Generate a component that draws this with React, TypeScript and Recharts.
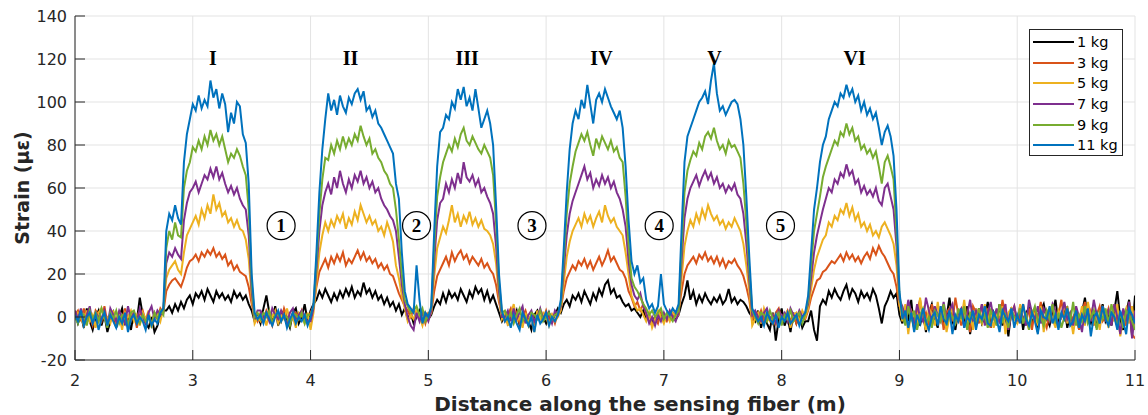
import React from 'react';
import {
  LineChart,
  Line,
  XAxis,
  YAxis,
  CartesianGrid,
  ReferenceDot,
} from 'recharts';

// sampling grid of the fibre readout (m)
const START_M = 2;
const STEP_M = 0.025;

// strain (µε), one value per 0.025 m from 2 m to 11 m
const strain1kg = [
  2, -3, 1, -5, 4, -2, -6, 0, 3, -4, 1, -7, -2, 2, -5, 0, 4, -3, -1, -6, 2, -2, 9, 1, -3, -5, 0, -7, -4, 1, 3,
  3, 5, 2, 6, 3, 7, 4, 8, 10, 6, 11, 9, 12, 8, 13, 10, 7, 12, 9, 11, 8, 10, 7, 12, 9, 11, 8, 10, 6, 3, -2, 1,
  -3, 4, 10, 2, -2, 5, -4, 1, 3, -1, -5, 2, 4, -3, 0, 6, -2,
  3, 6, 8, 12, 9, 13, 10, 7, 11, 8, 12, 9, 13, 10, 14, 9, 12, 10, 16, 11, 13, 9, 12, 8, 10, 6, 9, 5, 7, 3, 6, 1, 4, -1, 2, -3, 0, 3, -2, 1, -1,
  1, 5, 8, 6, 11, 7, 12, 9, 11, 8, 13, 10, 7, 12, 9, 14, 11, 13, 8, 12, 7, 10, 6, 2, -2,
  1, -3, 2, -1, 3, -4, 0, 2, -2, -6, 1, 3, -1, 0, -3, 2, -2, 1, 4,
  2, 6, 8, 5, 10, 8, 11, 7, 12, 9, 6, 11, 8, 13, 10, 15, 17, 11, 13, 9, 10, 7, 5, 6, 3, 4, 2, 0, 3, -1, 1, -2, 0, -1, 1, -2, 1, 0, 2, -1, 1,
  6, 10, 17, 8, 12, 6, 10, 7, 11, 8, 6, 9, 7, 10, 6, 8, 13, 7, 9, 6, 8, 7, 5, 2, 0,
  -2, 3, -5, 1, -3, -6, 2, -11, -1, 4, -4, 0, -7, 2, -3, 1, -5, -2,
  -2, 3, -6, -11, 5, 8, 6, 12, 9, 13, 10, 8, 12, 15, 9, 13, 11, 7, 12, 9, 11, 8, 13, 10, 4, -3, 5, 8, 12, 9, 11, 1,
  -3, 5, -2, 8, -6, 1, -4, 3, -7, 2, 6, -1, -5, 4, -3, 0, 9, -2, -6, 3, 1, -4, 5, -8, 2, -1, 4, -3, 0, 7,
  -5, 2, -2, 6, -4, 1, -9, 3, 0, -2, 5, -6, 2, 4, -3, 1, -7, 3, 6, -1, -4, 2, 8, -3, 0, 5, -5, 1, -2, 4,
  -6, 2, 9, -1, -3, 3, -5, 0, 6, -2, 1, -4, 3, 12, -1, -6, 2, 8, -9, 10,
];

const strain3kg = [
  1, 3, -2, 4, -1, 0, -4, 3, 1, -2, 5, -3, 0, 2, -4, 1, -1, 4, -3, 0, 2, -5, 1, 3, -2, 0, -3, 2, -1, 4, 2,
  12, 15, 17, 18, 16, 14, 18, 23, 26, 27, 29, 26, 30, 28, 31, 29, 32, 28, 30, 27, 29, 24, 26, 22, 24, 21, 20, 19, 14, 6, 1, -2,
  2, -1, 3, 0, -4, 2, 1, -2, 4, 0, -3, 1, 2, -1, 3, -2, 0,
  2, 5, 14, 21, 24, 27, 23, 28, 25, 29, 26, 30, 24, 27, 25, 28, 31, 27, 30, 26, 28, 25, 27, 23, 25, 22, 24, 20, 19, 15, 11, 8, 5, 3, 0, 4, 1, -1, 2, -3, 2,
  2, 12, 19, 22, 25, 28, 24, 30, 26, 29, 31, 27, 29, 25, 28, 26, 24, 27, 23, 25, 22, 20, 15, 7, 1,
  -2, 1, 4, -1, 2, -3, 0, 3, -2, 1, -4, 2, 0, -1, 3, -2, 1, -3, 2,
  4, 12, 18, 21, 24, 22, 26, 24, 27, 23, 26, 22, 25, 28, 24, 27, 31, 26, 28, 25, 22, 21, 18, 12, 9, 5, 7, 3, 6, 1, -2, -4, 0, -3, 2, 0, -2, 1, -1, 2, 3,
  12, 20, 24, 26, 28, 25, 29, 27, 30, 26, 28, 25, 28, 24, 27, 23, 26, 25, 27, 24, 22, 19, 14, 8, -2,
  2, -1, 3, -2, 1, 0, -3, 2, 4, -1, 0, 3, -2, 1, -3, 2, 0, -1,
  3, 9, 13, 17, 18, 21, 22, 24, 26, 25, 27, 29, 26, 30, 27, 29, 26, 28, 25, 28, 30, 27, 32, 29, 33, 30, 28, 25, 22, 20, 14, 5,
  4, -2, 7, 1, -5, 3, 8, -1, 2, -4, 6, 0, -3, 5, -6, 2, 4, -2, 9, 1, -4, 3, 0, -7, 5, 2, -3, 6, -1, 4,
  -5, 1, 3, -2, 8, 0, -4, 2, 5, -3, 1, 6, -2, 4, -6, 3, 0, 7, -1, -5, 2, 4, -3, 1, 8, -2, 5, -4, 0, 3,
  -6, 2, 7, -1, 3, -4, 1, 5, -2, 0, 4, -3, 6, -5, 2, 0, -4, 7, -8, -10,
];

const strain5kg = [
  -1, 2, 0, -4, 3, -2, 1, -5, 2, 4, -1, 0, -3, 3, -2, 1, -6, 2, 0, 3, -2, 1, -4, 2, -1, 3, -5, 0, 2, -2, 4,
  18, 22, 24, 26, 22, 20, 30, 38, 41, 44, 47, 43, 50, 46, 52, 48, 57, 50, 53, 47, 49, 44, 46, 42, 45, 41, 40, 36, 27, 9, -3, 0,
  -2, 1, -4, 2, 0, 3, -3, 1, -1, 4, -2, 0, -5, 2, 1, -3, 2,
  -6, 2, 16, 30, 38, 44, 40, 45, 42, 47, 44, 48, 41, 46, 43, 49, 45, 52, 48, 44, 47, 43, 45, 40, 42, 38, 44, 40, 35, 24, 18, 10, 4, -2, 1, -1, 3, 0, -4, 2, -1,
  2, 19, 32, 37, 42, 39, 45, 52, 44, 48, 42, 47, 44, 49, 43, 46, 42, 45, 41, 40, 38, 34, 25, 9, -1,
  2, -4, 1, 6, -2, 0, -5, 2, -3, 1, -7, 3, -1, 2, 0, -4, 1, -2, 0,
  3, 16, 28, 35, 40, 43, 46, 42, 48, 44, 47, 42, 46, 49, 44, 52, 47, 44, 46, 42, 40, 38, 30, 20, 10, 6, 3, 4, 1, -2, 2, -5, -1, 3, 0, -3, 1, -2, 2, 0, 1,
  18, 33, 40, 45, 42, 48, 44, 50, 46, 52, 48, 45, 47, 43, 45, 41, 44, 42, 46, 43, 40, 34, 24, 12, -4,
  -1, 2, -3, 4, 0, -2, 1, -4, 2, 0, -1, 3, -5, 1, 2, -2, 3, 0,
  4, 13, 22, 28, 32, 36, 38, 44, 42, 47, 45, 50, 48, 53, 47, 51, 45, 48, 42, 44, 40, 43, 38, 40, 37, 42, 44, 41, 38, 34, 24, 6,
  -2, 6, -8, 3, 0, -5, 9, -1, -6, 4, 1, -4, 7, -2, 3, -7, 0, 5, -3, 2, -1, 8, -4, 2, -6, 4, 0, -3, 6, -2,
  3, -5, 1, -2, 5, -8, 2, 4, -1, -3, 6, -2, 0, -6, 3, 1, -4, 5, -7, 2, 4, -1, -5, 3, 0, 6, -3, 1, -8, 2,
  -2, 5, -4, 7, 0, -3, 2, -6, 4, 1, -5, 3, -2, 6, -9, 0, 4, -3, 5, -4,
];

const strain7kg = [
  3, -1, 4, -2, 1, 5, -3, 2, 0, -1, 3, -4, 4, 1, -2, 3, 0, -3, 5, -1, 2, -2, 4, 0, -3, 2, 5, -1, 3, 1, 2,
  25, 30, 28, 32, 29, 27, 45, 53, 58, 60, 63, 58, 62, 66, 64, 69, 65, 70, 64, 67, 62, 58, 61, 57, 60, 55, 52, 50, 38, 12, -1, 3,
  3, 0, 2, -2, 4, 1, -1, 3, 0, -3, 2, 4, -1, 1, 3, 0, -2,
  -2, 4, 22, 40, 52, 58, 62, 57, 65, 60, 68, 62, 58, 64, 60, 66, 63, 68, 62, 65, 60, 63, 58, 60, 55, 52, 50, 47, 45, 40, 28, 15, 6, 0, -4, -6, 2, -2, 3, 1, -2,
  3, 26, 45, 53, 55, 62, 58, 64, 60, 67, 62, 72, 65, 63, 66, 61, 64, 58, 60, 56, 53, 48, 33, 12, 0,
  0, 3, -2, 4, -1, 2, 5, -3, 1, 3, -2, 0, 4, -1, 2, 1, -3, 3, 1,
  5, 22, 38, 48, 54, 58, 62, 66, 70, 64, 67, 60, 64, 61, 66, 62, 65, 60, 63, 58, 55, 50, 42, 26, 15, 10, 8, 11, 5, 2, -3, 0, -4, 1, -2, 2, -1, 3, 0, -2, 2,
  26, 46, 55, 60, 63, 66, 61, 65, 68, 64, 67, 62, 65, 60, 62, 58, 61, 59, 62, 57, 55, 48, 34, 17, 1,
  3, 0, -2, 2, 4, -1, 1, -3, 3, 0, 2, -2, 4, 1, -1, 3, 0, 2,
  6, 18, 30, 38, 44, 50, 55, 60, 58, 64, 62, 67, 65, 71, 66, 68, 62, 64, 58, 61, 57, 59, 56, 60, 54, 52, 60, 62, 56, 50, 33, 8,
  5, -1, 8, 2, -3, 6, 0, -2, 9, 3, -4, 5, 1, -2, 7, -1, 3, 6, -3, 2, 4, -5, 1, 8, -2, 3, 0, 6, -4, 2,
  7, -1, 4, -3, 2, 6, -6, 1, 5, -2, 3, 0, -4, 8, 2, -1, 5, -3, 4, 1, -2, 6, 3, -5, 1, 7, -1, 2, -4, 5,
  0, -7, 4, 2, -2, 8, 1, -3, 5, -1, 3, -4, 6, 0, -8, 4, -2, 7, -10, 3,
];

const strain9kg = [
  0, -3, 2, 1, -4, 3, -1, 2, -2, 4, 0, -5, 2, -1, 3, -3, 1, 0, -4, 2, 3, -1, -3, 1, -2, 0, -4, 2, -1, 3, 1,
  32, 40, 36, 44, 38, 37, 60, 68, 72, 79, 77, 82, 78, 84, 80, 87, 82, 85, 80, 84, 78, 72, 76, 74, 78, 75, 70, 66, 50, 16, 0, 2,
  -1, 2, 0, 3, -3, 1, 2, -2, 1, 0, -4, 2, 1, -1, 2, -3, 1,
  1, 5, 26, 48, 64, 74, 73, 80, 76, 82, 78, 84, 79, 83, 80, 85, 82, 89, 84, 80, 83, 76, 78, 74, 72, 68, 66, 62, 60, 50, 36, 20, 8, 5, 2, 3, 5, 1, 4, -2, 1,
  4, 33, 56, 65, 72, 76, 80, 77, 83, 79, 85, 88, 82, 80, 84, 81, 78, 76, 80, 77, 74, 66, 44, 16, 2,
  3, -1, 2, -3, 1, 4, -2, 0, -4, 2, 1, -1, 3, -2, 0, 2, -1, 1, 2,
  6, 27, 48, 62, 70, 77, 81, 85, 82, 86, 80, 75, 83, 79, 84, 81, 78, 82, 77, 79, 74, 72, 56, 34, 18, 14, 12, 9, 6, 4, 1, 3, 0, 2, 4, -1, 2, 0, -2, 1, 3,
  32, 58, 68, 73, 77, 75, 81, 78, 84, 86, 83, 88, 82, 78, 80, 76, 82, 79, 80, 77, 74, 62, 44, 22, 3,
  0, -3, 2, 1, -2, 3, -1, 0, 2, -4, 1, -1, 3, -2, 0, 2, -3, 1,
  8, 24, 40, 48, 56, 65, 70, 74, 78, 82, 80, 86, 84, 90, 85, 88, 82, 84, 78, 80, 76, 78, 74, 77, 70, 62, 72, 75, 70, 64, 40, 10,
  2, -4, 5, -1, 3, -6, 1, 4, -3, 0, -5, 3, 1, -2, 6, -4, 2, 0, -3, 4, -1, 5, -6, 2, 0, -3, 4, -2, 1, -5,
  3, 0, -4, 6, -2, 1, -5, 3, 0, -1, 4, -3, 2, -6, 1, 5, -2, 0, -4, 3, -1, 6, -3, 2, -5, 0, 4, -2, 7, -4,
  1, -2, 5, -3, 0, 3, -6, 2, -1, 4, -3, 6, 0, -4, 2, -5, 3, 1, -2, -6,
];

const strain11kg = [
  1, -2, 3, -4, 0, 2, -3, 1, -6, -1, 2, -4, 1, -2, -5, 0, -3, 2, -7, -1, 1, -3, 0, -2, -6, 1, -4, -1, -3, 2, 4,
  40, 48, 45, 52, 46, 43, 72, 85, 92, 99, 96, 103, 97, 101, 98, 110, 102, 106, 97, 104, 99, 86, 95, 90, 100, 98, 85, 81, 62, 20, 2, -1,
  1, -3, 2, -1, -4, 0, 3, -2, 1, -5, -1, 2, -3, 0, -2, 1, -4,
  0, 6, 30, 58, 78, 92, 104, 96, 101, 94, 103, 98, 95, 102, 99, 104, 106, 101, 105, 96, 98, 93, 96, 90, 88, 85, 82, 79, 76, 62, 55, 30, 12, 6, 4, 2, 24, 8, -3, 2, 0,
  5, 40, 70, 86, 88, 94, 92, 100, 97, 106, 101, 107, 98, 102, 96, 106, 97, 88, 92, 96, 90, 80, 52, 20, 3,
  -2, 0, -5, 1, -3, -6, 2, -1, -4, 0, -7, 1, -3, -1, 2, -4, 0, -2, 1,
  8, 32, 58, 78, 90, 96, 92, 101, 97, 108, 99, 90, 101, 104, 100, 106, 102, 98, 95, 92, 96, 88, 70, 45, 26, 20, 24, 16, 18, 8, 4, 6, 2, 5, 20, 6, 3, 1, 4, 2, 6,
  40, 72, 84, 88, 92, 96, 100, 102, 105, 99, 110, 118, 104, 96, 98, 94, 97, 100, 101, 99, 92, 80, 56, 28, 4,
  1, -2, 0, -4, 2, -1, -3, 1, -5, 0, -2, 2, -3, -1, 1, -4, 0, 2,
  10, 30, 50, 60, 72, 80, 84, 92, 96, 100, 98, 104, 102, 108, 103, 106, 100, 103, 96, 100, 94, 97, 92, 95, 88, 80, 86, 89, 84, 75, 50, 12,
  -1, 3, -5, 2, -7, 1, -3, 4, -2, -6, 0, 2, -4, 5, -1, -3, 3, -8, 1, -2, 4, -5, 0, -2, 3, -6, 1, -1, 5, -3,
  -4, 2, -1, -7, 3, 0, -2, 4, -5, 1, -3, 6, -1, -4, 2, -2, -8, 3, 0, -1, 5, -3, 1, -6, 2, -1, 4, -4, -2, 3,
  -5, 1, -2, 4, -9, 0, 2, -3, 5, -1, -4, 2, 0, -6, 3, -2, -8, 4, 1, -3,
];

const loadLabels = ['1 kg', '3 kg', '5 kg', '7 kg', '9 kg', '11 kg'];
const seriesKeys = ['s1', 's3', 's5', 's7', 's9', 's11'];
const seriesValues = [strain1kg, strain3kg, strain5kg, strain7kg, strain9kg, strain11kg];

const xTicks = [2, 3, 4, 5, 6, 7, 8, 9, 10, 11];
const yTicks = [-20, 0, 20, 40, 60, 80, 100, 120, 140];

// loaded sections and the gaps between them
const sectionLabels = ['I', 'II', 'III', 'IV', 'V', 'VI'];
const gapLabels = ['1', '2', '3', '4', '5'];

// where the annotations sit (axis units)
const SECTION_X = [3.17, 4.34, 5.33, 6.47, 7.43, 8.62];
const SECTION_Y = 120.5;
const GAP_X = [3.75, 4.9, 5.88, 6.96, 7.99];
const GAP_Y = 42.5;

const COLORS = ['#000000', '#D95319', '#EDB120', '#7E2F8E', '#77AC30', '#0072BD'];
const AXIS_COLOR = '#262626';
const GRID_COLOR = '#e3e3e3';
const FONT = '"DejaVu Sans", Verdana, sans-serif';
const SERIF = '"Liberation Serif", "DejaVu Serif", serif';

const distance = strain1kg.map((_, i) => +(START_M + i * STEP_M).toFixed(3));

const rows = distance.map((d, i) => {
  const row: Record<string, number> = { d };
  seriesKeys.forEach((k, s) => {
    row[k] = seriesValues[s][i];
  });
  return row;
});

const BottomTick = (props: any) => {
  const { x, y, payload } = props;
  return (
    <g>
      <line x1={x} x2={x} y1={y} y2={y - 10} stroke={AXIS_COLOR} />
      <text x={x} y={y + 26} textAnchor="middle" fill={AXIS_COLOR} fontSize={16} fontFamily={FONT}>
        {payload.value}
      </text>
    </g>
  );
};

const TopTick = (props: any) => {
  const { x, y } = props;
  return <line x1={x} x2={x} y1={y} y2={y + 10} stroke={AXIS_COLOR} />;
};

const LeftTick = (props: any) => {
  const { x, y, payload } = props;
  return (
    <g>
      <line x1={x} x2={x + 10} y1={y} y2={y} stroke={AXIS_COLOR} />
      <text x={x - 8} y={y + 6} textAnchor="end" fill={AXIS_COLOR} fontSize={16} fontFamily={FONT}>
        {payload.value}
      </text>
    </g>
  );
};

const RightTick = (props: any) => {
  const { x, y } = props;
  return <line x1={x} x2={x - 10} y1={y} y2={y} stroke={AXIS_COLOR} />;
};

const LegendBox = () => (
  <div
    style={{
      position: 'absolute',
      left: 1029,
      top: 29,
      width: 94,
      height: 127,
      boxSizing: 'border-box',
      border: `1px solid ${AXIS_COLOR}`,
      background: '#fff',
      paddingTop: 2,
      fontFamily: FONT,
      fontSize: 14.5,
      color: '#000',
    }}
  >
    {loadLabels.map((label, i) => (
      <div key={label} style={{ display: 'flex', alignItems: 'center', height: 20.6 }}>
        <span
          style={{
            display: 'inline-block',
            marginLeft: 3,
            width: 41,
            height: 2,
            background: COLORS[i],
          }}
        />
        <span style={{ marginLeft: 3, lineHeight: '20px' }}>{label}</span>
      </div>
    ))}
  </div>
);

export default function App() {
  return (
    <div style={{ position: 'absolute', left: 0, top: 0, width: 1148, height: 415, background: '#fff' }}>
      <LineChart
        width={1148}
        height={415}
        data={rows}
        margin={{ top: 16, right: 13, bottom: 0, left: 0 }}
      >
        <CartesianGrid stroke={GRID_COLOR} strokeWidth={1} />
        <XAxis
          dataKey="d"
          type="number"
          domain={[2, 11]}
          ticks={xTicks}
          allowDataOverflow
          height={55}
          tickSize={0}
          tickMargin={0}
          tick={<BottomTick />}
          stroke={AXIS_COLOR}
          label={{
            value: 'Distance along the sensing fiber (m)',
            position: 'insideBottom',
            offset: 4,
            dx: 35,
            fill: AXIS_COLOR,
            fontSize: 20,
            fontWeight: 700,
            fontFamily: FONT,
          }}
        />
        <XAxis
          xAxisId="top"
          orientation="top"
          dataKey="d"
          type="number"
          domain={[2, 11]}
          ticks={xTicks}
          allowDataOverflow
          height={0}
          tickSize={0}
          tickMargin={0}
          tick={<TopTick />}
          stroke={AXIS_COLOR}
        />
        <YAxis
          type="number"
          domain={[-20, 140]}
          ticks={yTicks}
          allowDataOverflow
          width={75}
          tickSize={0}
          tickMargin={0}
          tick={<LeftTick />}
          stroke={AXIS_COLOR}
          label={{
            value: 'Strain (με)',
            angle: -90,
            position: 'insideLeft',
            offset: 22,
            style: { textAnchor: 'middle' },
            fill: AXIS_COLOR,
            fontSize: 19,
            fontWeight: 700,
            fontFamily: FONT,
          }}
        />
        <YAxis
          yAxisId="right"
          orientation="right"
          type="number"
          domain={[-20, 140]}
          ticks={yTicks}
          allowDataOverflow
          width={0}
          tickSize={0}
          tickMargin={0}
          tick={<RightTick />}
          stroke={AXIS_COLOR}
        />
        {seriesKeys.map((k, i) => (
          <Line
            key={k}
            dataKey={k}
            name={loadLabels[i]}
            type="linear"
            stroke={COLORS[i]}
            strokeWidth={2}
            dot={false}
            isAnimationActive={false}
          />
        ))}
        {sectionLabels.map((label, i) => (
          <ReferenceDot
            key={label}
            x={SECTION_X[i]}
            y={SECTION_Y}
            r={1}
            fill="none"
            stroke="none"
            ifOverflow="visible"
            label={{
              value: label,
              position: 'center',
              fill: '#000',
              fontSize: 20,
              fontWeight: 700,
              fontFamily: SERIF,
            }}
          />
        ))}
        {gapLabels.map((label, i) => (
          <ReferenceDot
            key={label}
            x={GAP_X[i]}
            y={GAP_Y}
            r={14}
            fill="#fff"
            stroke="#000"
            strokeWidth={1.2}
            ifOverflow="visible"
            label={{
              value: label,
              position: 'center',
              fill: '#000',
              fontSize: 19,
              fontWeight: 700,
              fontFamily: SERIF,
            }}
          />
        ))}
      </LineChart>
      <LegendBox />
    </div>
  );
}
